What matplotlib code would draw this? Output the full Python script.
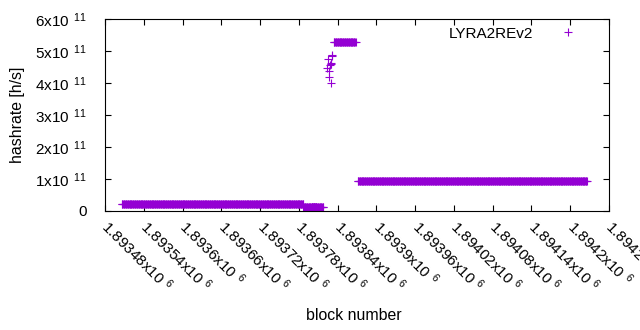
"""LYRA2REv2 hashrate vs block number, gnuplot-style scatter."""

import numpy as np
import matplotlib
matplotlib.use("Agg")
import matplotlib.pyplot as plt

# ---------------------------------------------------------------------------
# Data
# ---------------------------------------------------------------------------
# runs of consecutive blocks with an (almost) constant hashrate
run_start = [1893506, 1893787, 1893800, 1893834, 1893871]
run_end = [1893787, 1893818, 1893807, 1893868, 1894226]
run_rate = [2.1e10, 1.1e10, 1.4e10, 5.27e11, 0.93e11]

# isolated points during the spike
spike_block = [1893832, 1893831, 1893825, 1893829, 1893823, 1893826, 1893827, 1893829, 1893830, 1893828]
spike_rate = [4.875e11, 4.85e11, 4.74e11, 4.59e11, 4.48e11, 4.375e11, 4.20e11, 3.99e11, 4.62e11, 4.56e11]

xtick_vals = [1893480 + 60 * i for i in range(14)]
xtick_text = ["1.89348", "1.89354", "1.8936", "1.89366", "1.89372", "1.89378", "1.89384",
              "1.8939", "1.89396", "1.89402", "1.89408", "1.89414", "1.8942", "1.89426"]
ytick_vals = [0, 1e11, 2e11, 3e11, 4e11, 5e11, 6e11]
ytick_text = ["0", "1", "2", "3", "4", "5", "6"]

COLOR = "#9400D3"
FS = 11

plt.rcParams["font.family"] = ["Liberation Sans", "DejaVu Sans"]
plt.rcParams["mathtext.fontset"] = "custom"
plt.rcParams["mathtext.rm"] = "Liberation Sans"
plt.rcParams["mathtext.default"] = "regular"


def main():
    blocks, rates = [], []
    for s, e, r in zip(run_start, run_end, run_rate):
        b = np.arange(s, e + 1)
        blocks.append(b)
        rates.append(np.full(len(b), r))
    blocks.append(np.array(spike_block))
    rates.append(np.array(spike_rate))
    blocks = np.concatenate(blocks)
    rates = np.concatenate(rates)

    fig = plt.figure(figsize=(6.4, 3.3), dpi=100)
    ax = fig.add_axes([105 / 640, 119 / 330, 504 / 640, 192 / 330])

    ax.plot(blocks, rates, linestyle="none", marker="+", color=COLOR,
            markersize=5.2, markeredgewidth=0.8, label="LYRA2REv2")

    ax.set_xlim(1893480, 1894260)
    ax.set_ylim(0, 6e11)

    ax.set_yticks(ytick_vals)
    ax.set_yticklabels([t if t == "0" else t + r"x10$\ ^{11}$" for t in ytick_text])
    ax.set_xticks(xtick_vals)
    ax.set_xticklabels([t + r"x10$\ ^{6}$" for t in xtick_text],
                       rotation=-45, ha="left", va="center", rotation_mode="anchor")

    ax.tick_params(direction="in", length=4, width=0.8, top=True, right=True,
                   labelsize=FS, colors="black")
    ax.tick_params(axis="y", pad=13)
    ax.tick_params(axis="x", pad=9)
    for sp in ax.spines.values():
        sp.set_linewidth(0.8)

    ax.set_ylabel("hashrate [h/s]", fontsize=FS + 0.4)
    ax.set_xlabel("block number", fontsize=FS + 0.4)
    ax.yaxis.set_label_coords(-0.158, 0.5)
    ax.xaxis.set_label_coords(0.494, -0.505)

    ax.legend(loc="upper right", bbox_to_anchor=(0.948, 0.96), frameon=False,
              markerfirst=False, handlelength=2.0, handletextpad=1.27,
              borderpad=0, borderaxespad=0, fontsize=FS)

    fig.savefig("out.png", dpi=100)


if __name__ == "__main__":
    main()
